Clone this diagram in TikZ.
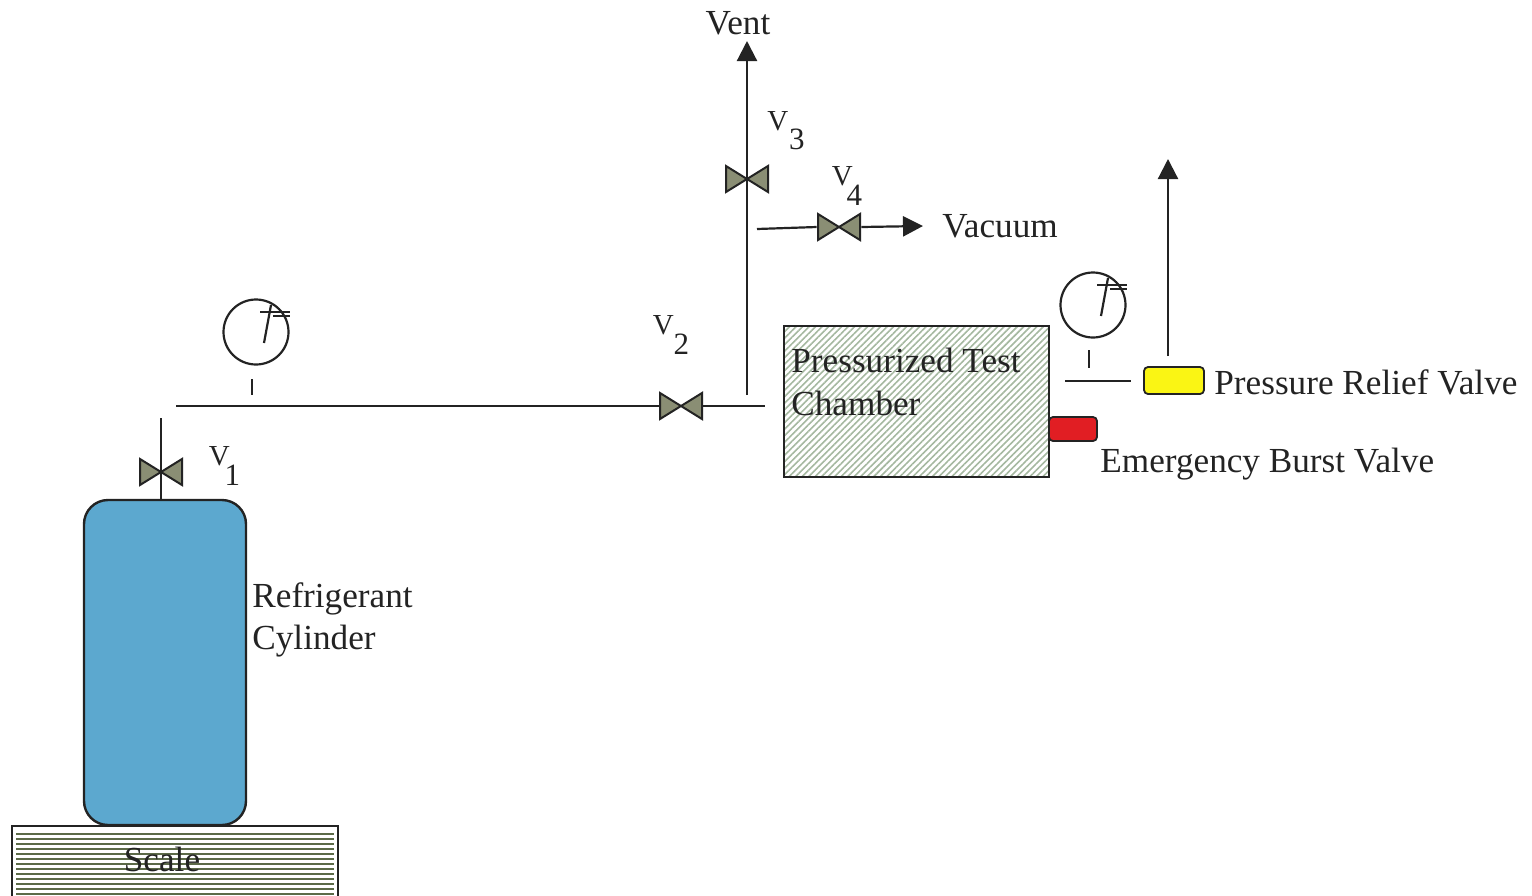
\documentclass[tikz,border=0pt]{standalone}
\usepackage{fontspec}
\setmainfont{Liberation Serif}
\usetikzlibrary{calc,positioning,arrows.meta,patterns.meta}
\definecolor{cylblue}{RGB}{92,168,207}
\definecolor{valvegray}{RGB}{138,142,116}
\definecolor{reliefyellow}{RGB}{250,245,20}
\definecolor{burstred}{RGB}{225,30,35}
\definecolor{hatchgreen}{RGB}{165,184,160}
\definecolor{scalegreen}{RGB}{92,106,72}
\definecolor{inkgray}{RGB}{35,35,35}

\tikzset{
  pipe/.style={draw=inkgray, line width=1.1pt},
  flow/.style={pipe, -{Triangle[length=10pt, width=10pt]}},
  label/.style={font=\fontsize{17.6}{17.6}\selectfont, text=inkgray, inner sep=0pt, anchor=west},
  tag/.style={font=\fontsize{14.5}{14.5}\selectfont, text=inkgray, inner sep=0pt},
  gauge/.style={circle, draw=inkgray, line width=1.1pt, minimum size=32.5pt, inner sep=0pt},
  valve/.style={rectangle, inner sep=0pt, minimum width=22pt, minimum height=15pt,
    path picture={
      \draw[draw=inkgray, fill=valvegray, line width=1pt]
        ($(path picture bounding box.west)+(0.5pt,6.5pt)$) -- ($(path picture bounding box.east)+(-0.5pt,-6.5pt)$)
        -- ($(path picture bounding box.east)+(-0.5pt,6.5pt)$) -- ($(path picture bounding box.west)+(0.5pt,-6.5pt)$) -- cycle;
    }},
  port/.style={rectangle, rounded corners=2pt, draw=inkgray, line width=0.9pt, inner sep=0pt}
}

\newcommand{\subtag}[1]{V\kern#1\raisebox{-0.66em}{\fontsize{15.5}{15.5}\selectfont\valvenum}}

\begin{document}
\begin{tikzpicture}[x=0.5pt, y=-0.5pt]
  \useasboundingbox (0,0) rectangle (1532,895);

  % scale and cylinder
  \node[rectangle, draw=inkgray, line width=1.2pt, minimum width=163pt, minimum height=40pt]
        (scale) at (175,866) {};
  \foreach \y in {834,839,...,894}
    \draw[scalegreen, line width=0.55pt] (16,\y) -- (334,\y);
  \node[rectangle, rounded corners=12pt, draw=inkgray, line width=1.2pt, fill=cylblue,
        minimum width=81pt, minimum height=162.5pt] (cylinder) at (165,662.5) {};
  \node[label, anchor=center] (scaletext) at (162,859) {Scale};
  \node[label] (refrigerant) at (252,599) {Refrigerant};
  \node[label] (cylindertext) at (252,641) {Cylinder};

  % test chamber
  \node[rectangle, draw=inkgray, line width=1.2pt, minimum width=132.5pt, minimum height=75.5pt,
        pattern={Lines[angle=45, distance=2.3pt, line width=0.8pt]}, pattern color=hatchgreen]
        (chamber) at (916.5,401.5) {};
  \node[label] (chambera) at (791,360) {Pressurized Test};
  \node[label] (chamberb) at (791,403) {Chamber};
  \node[port, fill=burstred, minimum width=24pt, minimum height=12pt] (burst) at (1073,429) {};
  \node[port, fill=reliefyellow, minimum width=30pt, minimum height=13.5pt] (relief) at (1174,380.5) {};
  \node[label] (relieftext) at (1214,382) {Pressure Relief Valve};
  \node[label] (bursttext) at (1100,464) {Emergency Burst Valve};

  % valves
  \node[valve] (va) at (161,472) {};
  \node[valve] (vb) at (681,406) {};
  \node[valve] (vc) at (747,179) {};
  \node[valve] (vd) at (839,227) {};
  \def\valvenum{1}\node[tag] (vatag) at (224.5,466) {\subtag{-2.5pt}};
  \def\valvenum{2}\node[tag] (vbtag) at (671,335) {\subtag{0pt}};
  \def\valvenum{3}\node[tag] (vctag) at (786,130.5) {\subtag{0.5pt}};
  \def\valvenum{4}\node[tag] (vdtag) at (847,186) {\subtag{-3pt}};

  % gauges
  \foreach \n/\x/\y in {gaugea/256/332, gaugeb/1093/305} {
    \node[gauge] (\n) at (\x,\y) {};
    \draw[pipe] ($(\n)+(8,11)$) -- ($(\n)+(15,-27)$);
    \draw[pipe, line width=0.8pt] ($(\n)+(4,-20)$) -- ($(\n)+(34,-20)$);
    \draw[pipe, line width=0.8pt] ($(\n)+(17,-16)$) -- ($(\n)+(34,-16)$);
  }
  \coordinate (tickatop) at (252,379);
  \coordinate (tickabot) at (252,395);
  \coordinate (tickbtop) at (1089,350);
  \coordinate (tickbbot) at (1089,368);
  \draw[pipe] (tickatop) -- (tickabot);
  \draw[pipe] (tickbtop) -- (tickbbot);

  % piping
  \coordinate (feedtop) at (161,418);
  \coordinate (feedleft) at (176,406);
  \coordinate (feedright) at (765,406);
  \coordinate (ventbot) at (747,395);
  \coordinate (venttop) at (747,41);
  \coordinate (vacleft) at (757,229);
  \coordinate (vacright) at (923,226);
  \coordinate (reliefleft) at (1065,381);
  \coordinate (reliefright) at (1131,381);
  \coordinate (stackbot) at (1168,356);
  \coordinate (stacktop) at (1168,159);
  \draw[pipe] (feedtop) -- (va.center) -- (va.center |- cylinder.north);
  \draw[pipe] (feedleft) -- (vb.west);
  \draw[pipe] (vb.east) -- (feedright);
  \draw[flow] (ventbot) -- (vc.center) -- (venttop);
  \draw[pipe] (vacleft) -- (vd.west);
  \draw[flow] (vd.east) -- (vacright);
  \draw[pipe] (reliefleft) -- (reliefright);
  \draw[flow] (stackbot) -- (stacktop);

  \node[label, anchor=center] (vent) at (738,23) {Vent};
  \node[label] (vacuum) at (942,226) {Vacuum};
\end{tikzpicture}
\end{document}
